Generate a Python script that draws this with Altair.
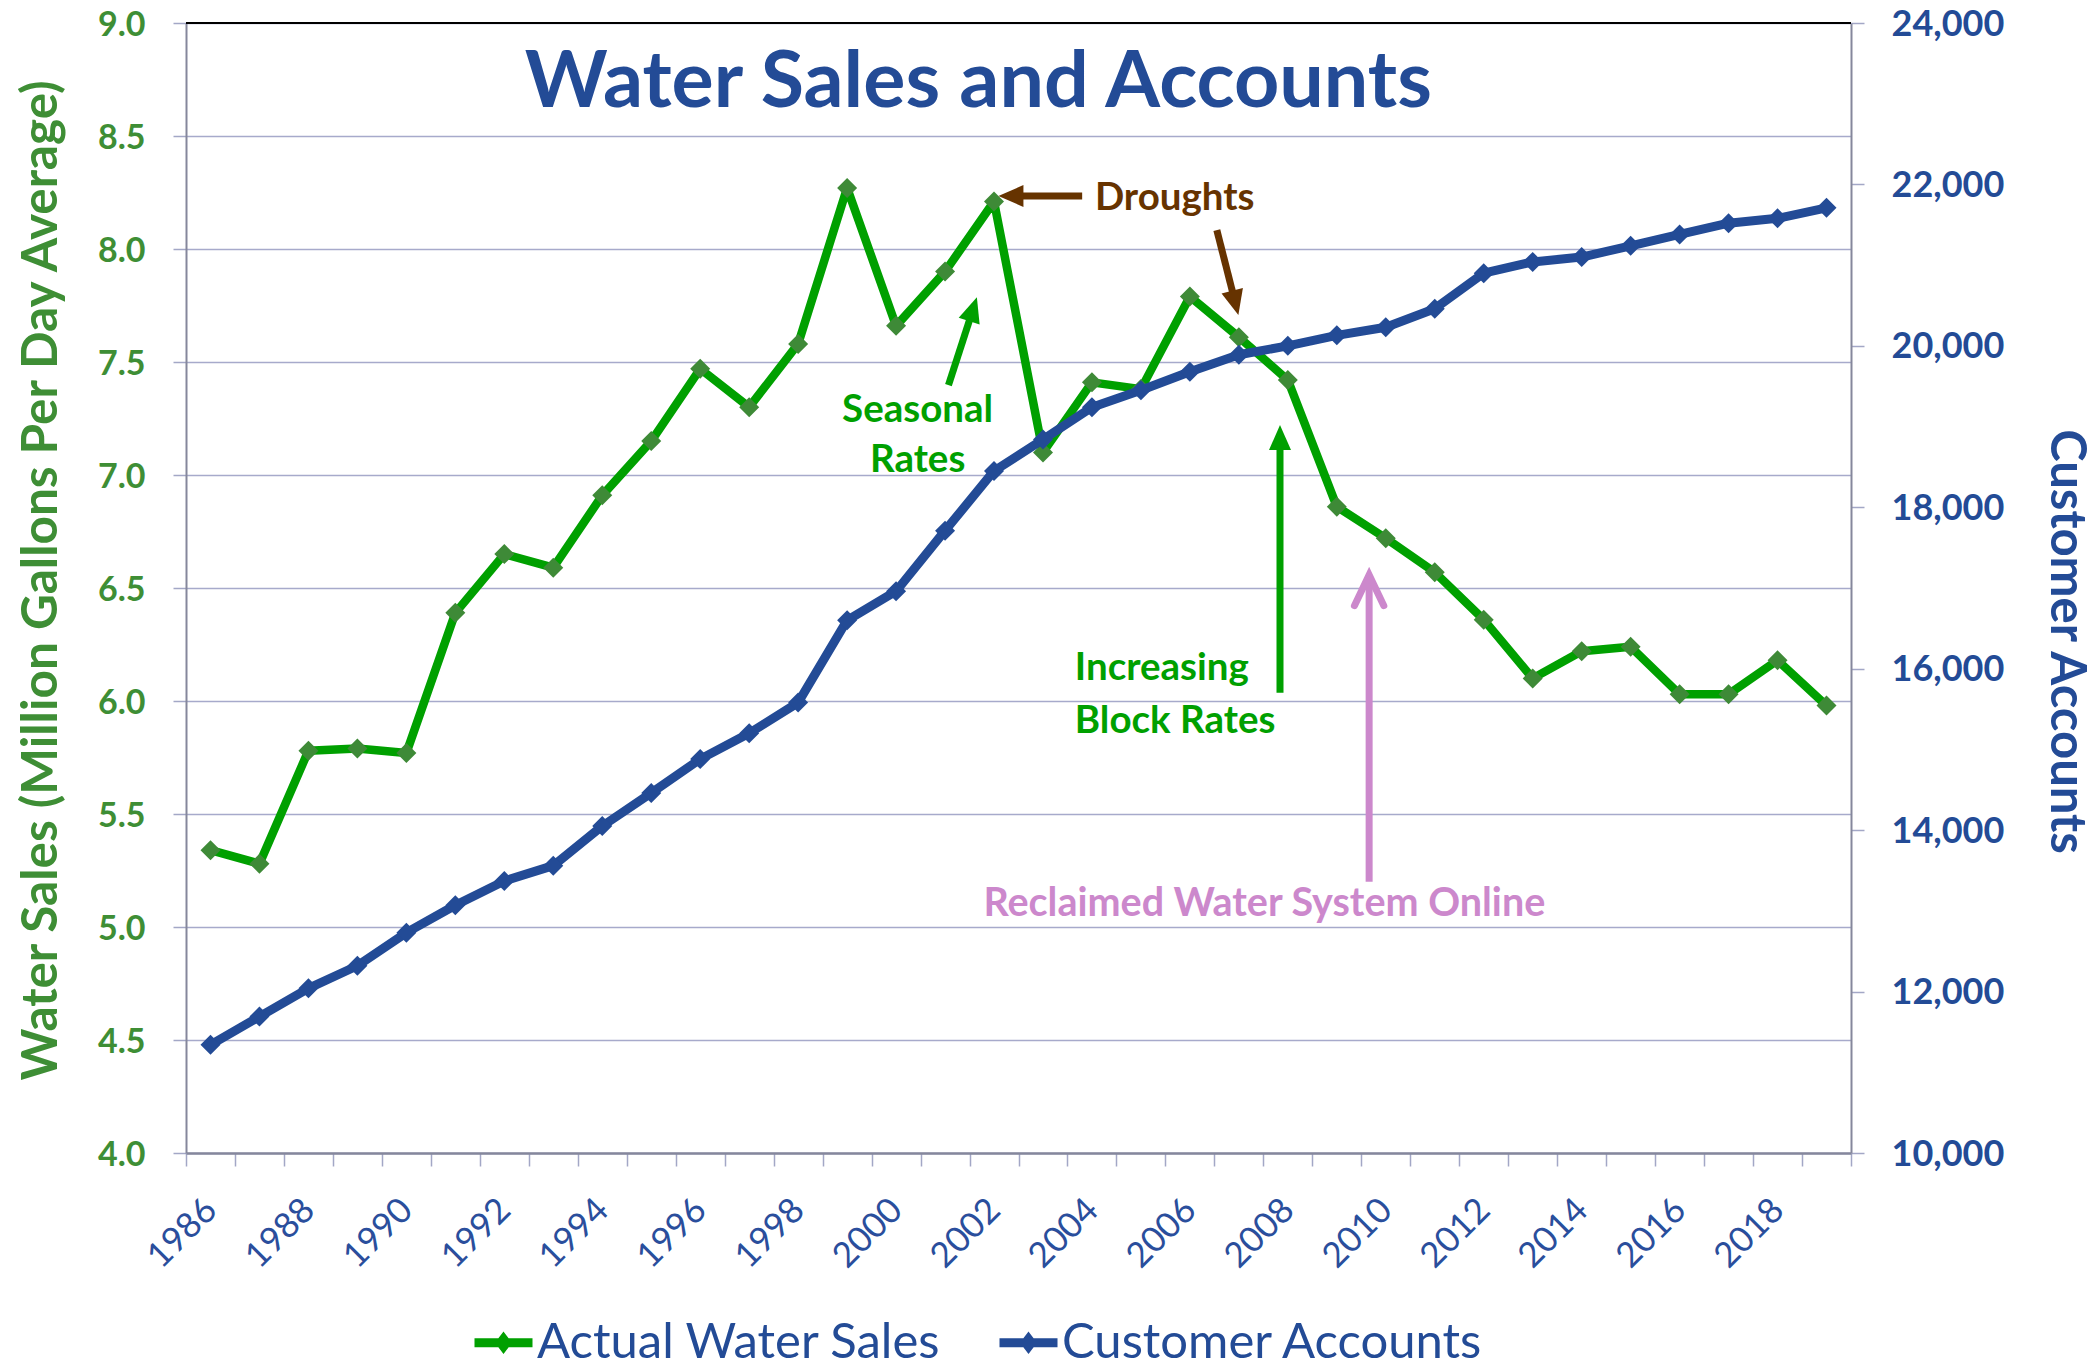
import math
import altair as alt
import pandas as pd

# ---------------- data ----------------
YEARS = list(range(1986, 2020))
WATER_SALES = [5.34, 5.28, 5.78, 5.79, 5.77, 6.39, 6.65, 6.59, 6.91, 7.15,
               7.47, 7.30, 7.58, 8.27, 7.66, 7.90, 8.21, 7.10, 7.41, 7.38,
               7.79, 7.61, 7.42, 6.86, 6.72, 6.57, 6.36, 6.10, 6.22, 6.24,
               6.03, 6.03, 6.18, 5.98]
CUSTOMER_ACCOUNTS = [11340, 11690, 12040, 12320, 12730, 13070, 13370, 13560, 14050, 14460,
                     14880, 15200, 15580, 16600, 16960, 17710, 18450, 18840, 19240, 19450,
                     19680, 19890, 20000, 20130, 20230, 20460, 20900, 21040, 21100, 21240,
                     21380, 21520, 21580, 21710]
SERIES = ["Actual Water Sales", "Customer Accounts"]
LEFT_TICKS = [4.0, 4.5, 5.0, 5.5, 6.0, 6.5, 7.0, 7.5, 8.0, 8.5, 9.0]
RIGHT_TICKS = [10000, 12000, 14000, 16000, 18000, 20000, 22000, 24000]
X_LABEL_YEARS = [1986, 1988, 1990, 1992, 1994, 1996, 1998, 2000, 2002, 2004,
                 2006, 2008, 2010, 2012, 2014, 2016, 2018]

TITLE = "Water Sales and Accounts"
Y_LEFT_TITLE = "Water Sales (Million Gallons Per Day Average)"
Y_RIGHT_TITLE = "Customer Accounts"

NOTE_TEXT = ["Droughts", "Seasonal", "Rates", "Increasing", "Block Rates",
             "Reclaimed Water System Online"]
NOTE_YEAR = [2004.06, 2000.44, 2000.44, 2003.65, 2003.65, 2007.52]
NOTE_VALUE = [8.173, 7.236, 7.015, 6.093, 5.857, 5.049]
NOTE_ALIGN = ["left", "center", "center", "left", "left", "center"]
NOTE_KIND = ["brown", "green", "green", "green", "green", "pink"]

ARROW_TAIL = [(2003.80, 8.2345), (2006.55, 8.084), (2001.07, 7.398), (2007.84, 6.037), (2009.66, 5.200)]
ARROW_TIP = [(2002.09, 8.2345), (2006.99, 7.708), (2001.65, 7.786), (2007.84, 7.221), (2009.66, 6.558)]
ARROW_KIND = ["brown", "brown", "green", "green", "pink"]
ARROW_HEAD = ["triangle", "triangle", "triangle", "triangle", "chevron"]

TITLE_POS = (2001.68, 8.628)

# ---------------- styles ----------------
W, H = 1665, 1130
PX_X = W / 34.0
PX_Y = H / 5.0
FONT = "Lato"
BLUE = "#234B96"
XLABEL = "#2A4E9C"
GREEN_LINE = "#00A000"
GREEN_MARK = "#3E8A37"
GREEN_AXIS = "#3E8E35"
BROWN = "#663300"
PINK = "#CC88CC"
GRID = "#A7AACB"
DOMAIN = "#85879C"
TICK = "#A3A7C6"
KIND_COLOR = {"brown": BROWN, "green": GREEN_LINE, "pink": PINK}
KIND_SIZE = {"brown": 38.5, "green": 38.5, "pink": 39.5}

X_DOMAIN = [1985.5, 2019.5]


def xs():
    return alt.Scale(domain=X_DOMAIN, nice=False, zero=False)


def ys_left():
    return alt.Scale(domain=[4, 9], nice=False, zero=False)


def ys_right():
    return alt.Scale(domain=[10000, 24000], nice=False, zero=False)


color_scale = alt.Scale(domain=SERIES, range=[GREEN_LINE, BLUE])

LEG_PATH = "M-1,0 L1,0 M0,-0.13 L0.1,0 L0,0.13 L-0.1,0 Z"
legend = alt.Legend(title=None, orient="none", legendX=284, legendY=1286,
                    direction="horizontal", columns=2, symbolType=LEG_PATH,
                    symbolSize=3364, symbolStrokeWidth=9,
                    symbolOpacity=1, labelFont=FONT, labelFontSize=49, labelColor=BLUE,
                    labelOffset=0, columnPadding=39, padding=0, labelLimit=1000)

df_sales = pd.DataFrame({"year": YEARS, "value": WATER_SALES, "series": SERIES[0]})
df_acc = pd.DataFrame({"year": YEARS, "value": CUSTOMER_ACCOUNTS, "series": SERIES[1]})

x_ticks = [X_DOMAIN[0] + i for i in range(35)]
label_expr = ("indexof([" + ",".join(str(y) for y in X_LABEL_YEARS) +
              "], datum.value + 0.5) >= 0 ? format(datum.value + 0.5, 'd') : ''")

x_axis = alt.Axis(values=x_ticks, labelExpr=label_expr, labelAngle=315, labelAlign="right",
                  labelBaseline="middle", labelOffset=W / 34.0 / 2, labelPadding=38,
                  labelFont=FONT, labelFontSize=35, labelColor=XLABEL, labelOverlap=False,
                  labelFlush=False, labelBound=False, tickSize=13, tickColor=TICK, tickWidth=1.5,
                  domainColor=DOMAIN, domainWidth=2.5, grid=False, title=None)

left_axis = alt.Axis(values=LEFT_TICKS, format=".1f", title=Y_LEFT_TITLE, titleFont=FONT,
                     titleFontSize=49.5, titleFontWeight="bold", titleColor=GREEN_AXIS,
                     titleAngle=270, titleX=-130, titleY=557, titleAlign="center",
                     titleBaseline="alphabetic", labelFont=FONT, labelFontSize=34,
                     labelFontWeight="bold", labelColor=GREEN_AXIS, labelPadding=28,
                     labelBaseline="alphabetic", labelOffset=12,
                     tickSize=13, tickColor=TICK, tickWidth=1.5, domainColor=DOMAIN,
                     domainWidth=2, grid=True, gridWidth=1.5, gridColor=GRID)

right_axis = alt.Axis(orient="right", values=RIGHT_TICKS, format=",.0f", title=Y_RIGHT_TITLE,
                      titleFont=FONT, titleFontSize=49, titleFontWeight="bold", titleColor=BLUE,
                      titleAngle=90, titleX=199, titleY=618, titleAlign="center",
                      titleBaseline="alphabetic", labelFont=FONT, labelFontSize=36,
                      labelFontWeight="bold", labelColor=BLUE, labelPadding=27,
                      labelBaseline="alphabetic", labelOffset=12,
                      tickSize=13, tickColor=TICK, tickWidth=1.5, domainColor=DOMAIN,
                      domainWidth=2, grid=False)


def ax(field):
    return alt.X(field, scale=xs(), axis=x_axis)


def ay(field):
    return alt.Y(field, scale=ys_left(), axis=None)


layers = []

# top border of the plot (at the 9.0 gridline)
top_df = pd.DataFrame({"v": [max(LEFT_TICKS)]})
layers.append(alt.Chart(top_df).mark_rule(color="#000000", strokeWidth=2).encode(
    y=alt.Y("v:Q", scale=ys_left(), axis=None)))

# water sales
green_line = alt.Chart(df_sales).mark_line(strokeWidth=8.5, strokeJoin="round").encode(
    x=ax("year:Q"),
    y=alt.Y("value:Q", scale=ys_left(), axis=left_axis),
    color=alt.Color("series:N", scale=color_scale, legend=legend),
)
green_pts = alt.Chart(df_sales).mark_point(shape="diamond", filled=True, size=400,
                                           color=GREEN_MARK, opacity=1, strokeWidth=0).encode(
    x=ax("year:Q"), y=ay("value:Q"),
)
layers += [green_line, green_pts]

# customer accounts
blue_line = alt.Chart(df_acc).mark_line(strokeWidth=9, strokeJoin="round").encode(
    x=ax("year:Q"),
    y=alt.Y("value:Q", scale=ys_right(), axis=right_axis),
    color=alt.Color("series:N", scale=color_scale, legend=legend),
)
blue_pts = alt.Chart(df_acc).mark_point(shape="diamond", filled=True, size=400,
                                        color=BLUE, opacity=1, strokeWidth=0).encode(
    x=ax("year:Q"), y=alt.Y("value:Q", scale=ys_right(), axis=None),
)
layers += [blue_line, blue_pts]

# annotations
TRI = "M0,0 L-0.88,2 L0.88,2 Z"
CHEV = "M-1.05,2.2 L0,0 L1.05,2.2"

for tail, tip, kind, head in zip(ARROW_TAIL, ARROW_TIP, ARROW_KIND, ARROW_HEAD):
    col = KIND_COLOR[kind]
    dxp = (tip[0] - tail[0]) * PX_X
    dyp = -(tip[1] - tail[1]) * PX_Y
    L = math.hypot(dxp, dyp)
    ux, uy = dxp / L, dyp / L
    ang = math.degrees(math.atan2(ux, -uy)) % 360
    inset = 15 if head == "triangle" else 3
    end = (tip[0] - ux * inset / PX_X, tip[1] + uy * inset / PX_Y)
    sdf = pd.DataFrame({"x": [tail[0]], "y": [tail[1]], "x2": [end[0]], "y2": [end[1]]})
    layers.append(
        alt.Chart(sdf).mark_rule(color=col, strokeWidth=7, strokeCap="butt").encode(
            x=ax("x:Q"), y=ay("y:Q"), x2="x2:Q", y2="y2:Q"))
    hdf = pd.DataFrame({"x": [tip[0]], "y": [tip[1]]})
    if head == "triangle":
        mk = alt.Chart(hdf).mark_point(shape=TRI, filled=True, size=625, angle=ang,
                                       color=col, opacity=1, strokeWidth=0)
    else:
        mk = alt.Chart(hdf).mark_point(shape=CHEV, filled=False, size=784, angle=ang,
                                       color=col, opacity=1, strokeWidth=7,
                                       strokeCap="round", strokeJoin="miter")
    layers.append(mk.encode(x=ax("x:Q"), y=ay("y:Q")))

for kind in ["brown", "green", "pink"]:
    idx = [i for i, k in enumerate(NOTE_KIND) if k == kind]
    for align in ["left", "center"]:
        sel = [i for i in idx if NOTE_ALIGN[i] == align]
        if not sel:
            continue
        tdf = pd.DataFrame({"x": [NOTE_YEAR[i] for i in sel],
                            "y": [NOTE_VALUE[i] for i in sel],
                            "t": [NOTE_TEXT[i] for i in sel]})
        layers.append(
            alt.Chart(tdf).mark_text(align=align, baseline="alphabetic", font=FONT,
                                     fontWeight="bold", fontSize=KIND_SIZE[kind],
                                     color=KIND_COLOR[kind]).encode(
                x=ax("x:Q"), y=ay("y:Q"), text="t:N"))

title_df = pd.DataFrame({"x": [TITLE_POS[0]], "y": [TITLE_POS[1]], "t": [TITLE]})
layers.append(
    alt.Chart(title_df).mark_text(align="center", baseline="alphabetic", font=FONT,
                                  fontWeight="bold", fontSize=79, color=BLUE).encode(
        x=ax("x:Q"), y=ay("y:Q"), text="t:N"))

chart = alt.layer(*layers).resolve_scale(y="independent").properties(
    width=W, height=H,
    autosize=alt.AutoSizeParams(type="none"),
    padding={"left": 178, "top": 15, "right": 240, "bottom": 208},
).configure(background="white").configure_view(strokeWidth=0)

chart.save("out.html", embed_options={"renderer": "svg", "actions": False})
